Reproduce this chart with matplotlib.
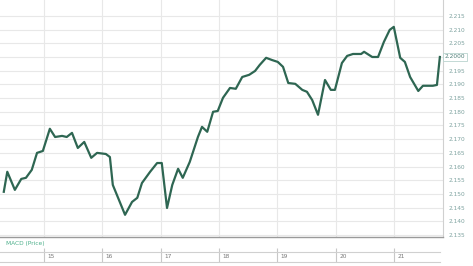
import matplotlib
matplotlib.use('Agg')
import matplotlib.pyplot as plt
import numpy as np

# ── Data ─────────────────────────────────────────────────────────────────────
day = [14.31, 14.37, 14.50, 14.61, 14.69, 14.79, 14.88, 14.98, 15.10, 15.19,
       15.31, 15.39, 15.48, 15.58, 15.69, 15.81, 15.91, 16.06, 16.13, 16.18,
       16.39, 16.51, 16.60, 16.68, 16.82, 16.94, 17.02, 17.11, 17.20, 17.30,
       17.38, 17.50, 17.64, 17.71, 17.80, 17.90, 17.98, 18.07, 18.19, 18.29,
       18.40, 18.52, 18.62, 18.70, 18.81, 18.91, 19.01, 19.10, 19.19, 19.31,
       19.43, 19.51, 19.60, 19.70, 19.82, 19.92, 19.99, 20.11, 20.20, 20.30,
       20.44, 20.49, 20.63, 20.73, 20.83, 20.93, 21.00, 21.11, 21.19, 21.28,
       21.42, 21.50, 21.67, 21.74, 21.79]
price = [2.1508, 2.1581, 2.1515, 2.1555, 2.1559, 2.1588, 2.1650, 2.1657, 2.1738, 2.1708,
         2.1712, 2.1708, 2.1723, 2.1668, 2.1690, 2.1632, 2.1650, 2.1646, 2.1635, 2.1533,
         2.1424, 2.1471, 2.1486, 2.1540, 2.1581, 2.1613, 2.1613, 2.1449, 2.1533, 2.1592,
         2.1559, 2.1617, 2.1708, 2.1745, 2.1727, 2.1800, 2.1803, 2.1851, 2.1887, 2.1884,
         2.1927, 2.1935, 2.1949, 2.1971, 2.1997, 2.1989, 2.1982, 2.1964, 2.1905, 2.1902,
         2.1880, 2.1873, 2.1843, 2.1789, 2.1916, 2.1880, 2.1880, 2.1978, 2.2004, 2.2011,
         2.2011, 2.2019, 2.2000, 2.2000, 2.2055, 2.2099, 2.2110, 2.1997, 2.1982, 2.1927,
         2.1876, 2.1895, 2.1895, 2.1898, 2.2000]
day_labels = [15, 16, 17, 18, 19, 20, 21]
yticks = np.round(np.arange(2.135, 2.2151, 0.005), 3)

W, H = 473, 266
fig = plt.figure(figsize=(W / 100, H / 100), dpi=100)
fig.patch.set_facecolor('white')

# ── Main price panel ─────────────────────────────────────────────────────────
ax = fig.add_axes([0, 29 / H, 443 / W, 237 / H])
ax.plot(day, price, color='#2e6652', lw=1.6, solid_joinstyle='round', zorder=3)
ax.set_xlim(14.245, 21.844)
ax.set_ylim(2.1343, 2.2208)
ax.set_xticks(day_labels)
ax.set_yticks(yticks)
# the label under the last-price box is hidden, as in the reference
last = price[-1]
ax.set_yticklabels(['' if abs(v - last) < 0.0025 else f'{v:.3f}' for v in yticks])
ax.yaxis.tick_right()
ax.tick_params(axis='y', length=0, pad=4, labelsize=4.2, labelcolor='#7fa3a0')
ax.tick_params(axis='x', length=0, labelbottom=False)
ax.grid(True, color='#e8e8e8', lw=0.8)
for s in ['top', 'left']:
    ax.spines[s].set_visible(False)
ax.spines['right'].set_color('#d0d0d0')
ax.spines['bottom'].set_color('#9a9a9a')
ax.spines['bottom'].set_linewidth(1.0)

# current value box
ax.text(1.004, last, f'{last:.4f}', transform=ax.get_yaxis_transform(),
        fontsize=4.2, color='#4f7f78', va='center', ha='left',
        bbox=dict(boxstyle='square,pad=0.25', fc='white', ec='#b9d3cf', lw=0.6))

fig.text(6 / W, 1 - 243 / H, 'MACD (Price)', fontsize=4.2, color='#4caf8a',
         va='center', ha='left')

# ── Date strip ───────────────────────────────────────────────────────────────
ax2 = fig.add_axes([0, 4 / H, 440 / W, 10 / H])
ax2.set_xlim(14.245, 21.79)
ax2.set_ylim(0, 1)
ax2.set_yticks([])
ax2.set_xticks(day_labels)
ax2.tick_params(axis='x', direction='in', length=10, color='#c8c8c8', labelbottom=False)
for d in day_labels:
    ax2.text(d + 0.06, 0.5, str(d), fontsize=4.2, color='#777777', va='center', ha='left')
for s in ['left', 'right']:
    ax2.spines[s].set_visible(False)
for s in ['top', 'bottom']:
    ax2.spines[s].set_color('#d0d0d0')

plt.savefig('out.png', dpi=100)
